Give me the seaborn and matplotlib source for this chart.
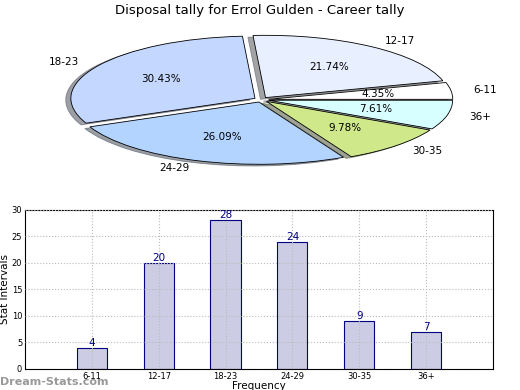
import matplotlib
matplotlib.use("Agg")
import matplotlib.pyplot as plt
import seaborn as sns
import pandas as pd

# data
categories = ["6-11", "12-17", "18-23", "24-29", "30-35", "36+"]
counts = [4, 20, 28, 24, 9, 7]
pie_colors = ["#ffffff", "#e8f0ff", "#c4d8ff", "#b3d4ff", "#cfe88a", "#d8ffff"]

sns.set_style("white")
plt.rcParams["font.family"] = ["DejaVu Sans"]
plt.rcParams.update({"text.color": "black", "axes.labelcolor": "black",
                     "xtick.color": "black", "ytick.color": "black"})

fig = plt.figure(figsize=(5.2, 3.9), dpi=100)
fig.patch.set_facecolor("white")

# pie (flattened)
ax1 = fig.add_axes([0.12, 0.572, 0.765, 0.345])
wedges, texts, autotexts = ax1.pie(
    counts, labels=categories, colors=pie_colors, autopct="%.2f%%",
    startangle=0, counterclock=True, explode=[0.04] * 6, shadow=True,
    labeldistance=1.12, pctdistance=0.6,
    wedgeprops={"edgecolor": "black", "linewidth": 0.6},
    textprops={"fontsize": 7.5, "color": "black"})
ax1.set_aspect("auto")
ax1.set_xlim(-1.08, 1.08)
ax1.set_ylim(-1.08, 1.08)
fig.text(0.5, 0.972, "Disposal tally for Errol Gulden - Career tally",
         ha="center", va="center", fontsize=9.5)

# bars
df = pd.DataFrame({"cat": categories, "n": counts})
ax2 = fig.add_axes([0.048, 0.054, 0.900, 0.408])
sns.barplot(data=df, x="cat", y="n", order=categories, ax=ax2,
            color="#ccccE4", edgecolor="#000080", linewidth=0.8, width=0.45,
            saturation=1)
for i, v in enumerate(counts):
    ax2.text(i, v, str(v), ha="center", va="bottom", color="#000080", fontsize=7.5)
ax2.set_xlim(-1, 6)
ax2.set_ylim(0, 30)
ax2.set_yticks([0, 5, 10, 15, 20, 25, 30])
ax2.grid(True, linestyle=":", color="#bbbbbb", linewidth=0.8)
ax2.set_axisbelow(False)
ax2.tick_params(labelsize=6, length=2, direction="in", pad=2)
ax2.set_ylabel("Stat Intervals", fontsize=7.5, labelpad=1)
ax2.set_xlabel("Frequency", fontsize=7.5, labelpad=0)
for s in ax2.spines.values():
    s.set_linewidth(0.8)
    s.set_color("black")

fig.text(0.0, 0.02, "Dream-Stats.com", color="#999999", fontsize=8,
         fontweight="bold", ha="left", va="center")

fig.savefig("out.png", dpi=100)
